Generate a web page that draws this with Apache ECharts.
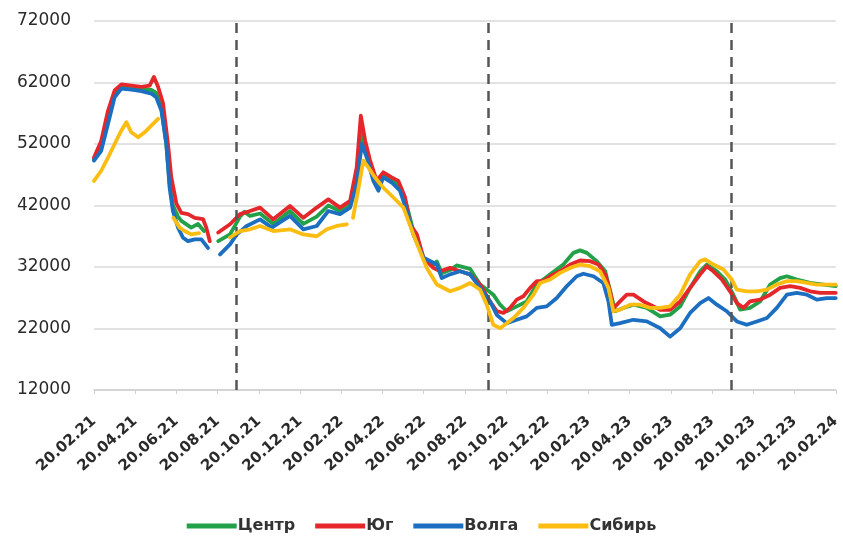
<!DOCTYPE html>
<html>
<head>
<meta charset="utf-8">
<script src="https://cdn.jsdelivr.net/npm/echarts@6/dist/echarts.min.js"></script>
<style>
html,body{margin:0;padding:0;background:#fff;}
#chart{width:843px;height:540px;}
</style>
</head>
<body>
<div id="chart"></div>
<script>
// x = months since 20.02.21, y = value
const tickLabels = ['20.02.21','20.04.21','20.06.21','20.08.21','20.10.21','20.12.21','20.02.22','20.04.22','20.06.22','20.08.22','20.10.22','20.12.22','20.02.23','20.04.23','20.06.23','20.08.23','20.10.23','20.12.23','20.02.24'];
const seriesNames = ['Центр','Юг','Волга','Сибирь'];
const breakMonths = [6.9, 19.14, 30.95];

const centr = [[0,49500],[0.35,51500],[0.68,56300],[1.0,60000],[1.33,61300],[1.81,61100],[2.3,60900],[2.78,60800],[3.02,60300],[3.27,57800],[3.51,52000],[3.67,45500],[3.83,42000],[4.08,40200],[4.24,39500],[4.72,38400],[5.05,39000],[5.34,37850],[5.7,null],
[6.03,36200],[6.6,37300],[7.09,40200],[7.3,41000],[7.57,40300],[8.06,40700],[8.7,39000],[9.51,41100],[10.16,39000],[10.81,40200],[11.37,42000],[11.94,41100],[12.43,42200],[12.75,46800],[12.97,54000],[13.2,51000],[13.56,47000],[13.8,45200],[14.04,46900],[14.45,46100],[14.85,45200],[15.18,42000],[15.5,37800],[15.99,33500],[16.47,32400],[16.64,32900],[16.88,31000],[17.28,31500],[17.6,32250],[18.25,31700],[18.74,29150],[19.06,28330],[19.38,27500],[19.71,25870],[20.03,24800],[20.52,25600],[21.0,26400],[21.49,29150],[22.14,30800],[22.78,32400],[23.27,34300],[23.59,34700],[23.92,34300],[24.4,32950],[24.81,31300],[25.05,28050],[25.29,24800],[25.7,25350],[26.18,25870],[26.83,25350],[27.48,23970],[27.96,24240],[28.45,25600],[28.93,28600],[29.42,31300],[29.74,32400],[30.23,31300],[30.63,29970],[31.03,27500],[31.36,25070],[31.84,25350],[32.33,26400],[32.82,29150],[33.3,30200],[33.63,30500],[34.11,29970],[34.76,29430],[35.41,29150],[36.0,28900]];

const yug = [[0,49800],[0.35,52500],[0.68,57400],[1.0,60700],[1.33,61700],[1.81,61500],[2.3,61300],[2.7,61500],[2.91,62900],[3.11,61300],[3.35,58600],[3.59,52000],[3.75,46600],[4.0,42300],[4.24,40800],[4.56,40600],[4.89,40000],[5.29,39800],[5.45,38400],[5.62,36200],[5.8,null],
[6.03,37600],[6.6,38950],[7.09,40600],[7.57,41100],[8.06,41660],[8.7,39750],[9.51,41930],[10.16,40000],[10.81,41660],[11.37,43000],[11.94,41660],[12.43,42750],[12.75,48200],[12.95,56600],[13.16,52550],[13.4,49300],[13.72,46000],[14.04,47400],[14.45,46560],[14.77,46000],[15.1,43300],[15.34,38950],[15.67,37300],[15.99,33500],[16.47,31850],[16.8,31300],[17.28,31850],[17.77,31300],[18.25,30800],[18.74,29150],[19.22,26400],[19.55,24800],[19.87,24530],[20.19,25350],[20.52,26700],[20.84,27240],[21.17,28600],[21.49,29700],[21.81,29700],[22.14,30500],[22.62,31300],[23.11,32400],[23.59,33060],[24.08,32950],[24.48,32400],[24.81,30800],[25.05,28050],[25.21,25300],[25.53,26400],[25.86,27500],[26.18,27500],[26.67,26400],[27.15,25600],[27.48,25050],[27.96,25050],[28.45,26400],[28.93,28600],[29.42,30800],[29.74,32130],[30.06,31300],[30.47,29970],[30.87,28050],[31.2,26130],[31.52,25350],[31.84,26400],[32.33,26700],[32.82,27500],[33.3,28600],[33.79,28900],[34.27,28600],[34.76,28050],[35.24,27780],[35.73,27780],[36.0,27800]];

const volga = [[0,49300],[0.35,50900],[0.68,55300],[1.0,59600],[1.33,61000],[1.81,60840],[2.3,60600],[2.78,60200],[3.02,59600],[3.27,57450],[3.51,52000],[3.67,44900],[3.83,41100],[4.08,38400],[4.32,36750],[4.56,36200],[4.89,36500],[5.21,36500],[5.53,35100],[5.8,null],
[6.12,34050],[6.6,35670],[6.93,37300],[7.41,38670],[8.06,39750],[8.63,38400],[9.51,40300],[10.16,38130],[10.81,38670],[11.37,41100],[11.94,40600],[12.43,41660],[12.75,45500],[13.0,52000],[13.24,49800],[13.56,46000],[13.8,44400],[14.04,46560],[14.45,45740],[14.85,44400],[15.18,41100],[15.5,37300],[15.99,33500],[16.64,32400],[16.88,30200],[17.28,30800],[17.77,31300],[18.25,30800],[18.74,28600],[19.22,26400],[19.55,24200],[20.03,22870],[20.52,23420],[21.0,23970],[21.49,25350],[21.97,25600],[22.46,26950],[22.95,28900],[23.43,30500],[23.75,30900],[24.24,30500],[24.72,29400],[24.97,26400],[25.13,22600],[25.53,22870],[26.18,23420],[26.83,23150],[27.48,22050],[27.96,20680],[28.45,22050],[28.93,24530],[29.42,26130],[29.82,26950],[30.23,25870],[30.71,24800],[31.2,23150],[31.68,22600],[32.17,23150],[32.66,23700],[33.14,25350],[33.63,27500],[34.11,27780],[34.6,27500],[35.08,26700],[35.57,26950],[36.0,26950]];

const sibir = [[0,46000],[0.35,47650],[0.68,49800],[1.0,52000],[1.33,54200],[1.57,55550],[1.81,53900],[2.14,53100],[2.46,53900],[2.78,55000],[3.11,56100],[3.4,null],
[3.85,40000],[4.16,38400],[4.4,37850],[4.72,37300],[5.1,37500],[5.5,null],
[6.6,36800],[7.09,37850],[7.57,38130],[8.06,38670],[8.7,37850],[9.51,38130],[10.16,37300],[10.81,37000],[11.3,38130],[11.78,38670],[12.27,38950],[12.4,null],
[12.57,40000],[12.9,46000],[13.07,49300],[13.31,48200],[13.64,46560],[14.04,44900],[14.53,43300],[15.02,41660],[15.5,37300],[16.15,31850],[16.64,29150],[17.28,28050],[17.77,28600],[18.25,29400],[18.74,28300],[19.06,25870],[19.38,22600],[19.71,22050],[20.03,22870],[20.36,23700],[20.84,25350],[21.33,27500],[21.65,29400],[22.14,29970],[22.62,31050],[23.11,31850],[23.59,32400],[24.08,32130],[24.56,31300],[24.97,28600],[25.21,24800],[25.53,25070],[26.02,25870],[26.5,25870],[26.99,25350],[27.48,25350],[27.96,25600],[28.45,27500],[28.93,30800],[29.42,32950],[29.66,33240],[30.06,32400],[30.55,31600],[30.95,29970],[31.2,28330],[31.68,28050],[32.17,28050],[32.66,28330],[33.14,29150],[33.63,29700],[34.11,29700],[34.6,29430],[35.08,29150],[35.57,29150],[36.0,29150]];

const colors = ['#22a148','#e5262b','#1c6fc0','#fbbd12'];
const allData = [centr, yug, volga, sibir];

const chart = echarts.init(document.getElementById('chart'), null, {renderer:'canvas'});

const series = allData.map((d, i) => ({
  name: seriesNames[i],
  type: 'line',
  data: d.map(p => [p[0], p[1] === null ? '-' : p[1]]),
  showSymbol: false,
  symbol: 'none',
  connectNulls: false,
  lineStyle: {width: 3.8, color: colors[i], join: 'round', cap: 'round'},
  itemStyle: {color: colors[i]},
  emphasis: {disabled: true},
  z: 2 + i
}));

series[0].markLine = {
  silent: true,
  symbol: ['none','none'],
  label: {show: false},
  lineStyle: {type: [10, 7], color: '#555', width: 2.5},
  data: breakMonths.map(m => ({xAxis: m}))
};

chart.setOption({
  animation: false,
  backgroundColor: '#fff',
  color: colors,
  grid: {left: 94, right: 6, top: 21, bottom: 150, containLabel: false},
  legend: {
    data: seriesNames,
    bottom: 1,
    left: 'center',
    itemWidth: 50,
    itemHeight: 5,
    itemGap: 20,
    icon: 'rect',
    textStyle: {fontFamily: 'DejaVu Sans', fontSize: 16, fontWeight: 'bold', color: '#333', padding: [0,0,0,-4]}
  },
  xAxis: {
    type: 'value',
    min: 0,
    max: 36,
    interval: 2,
    axisLine: {show: true, lineStyle: {color: '#d0d0d0', width: 1.5}},
    axisTick: {show: true, length: 4, lineStyle: {color: '#d0d0d0'}},
    splitLine: {show: false},
    axisLabel: {
      rotate: 42,
      margin: 29,
      fontFamily: 'DejaVu Sans',
      fontSize: 15,
      fontWeight: 'bold',
      color: '#2a2a2a',
      formatter: v => tickLabels[Math.round(v / 2)] || ''
    }
  },
  yAxis: {
    type: 'value',
    min: 12000,
    max: 72000,
    interval: 10000,
    axisLine: {show: false},
    axisTick: {show: false},
    splitLine: {lineStyle: {color: '#d9d9d9', width: 1.5}},
    axisLabel: {margin: 23, fontFamily: 'DejaVu Sans', fontSize: 17, color: '#2a2a2a', formatter: v => String(v)}
  },
  series: series
});
</script>
</body>
</html>
